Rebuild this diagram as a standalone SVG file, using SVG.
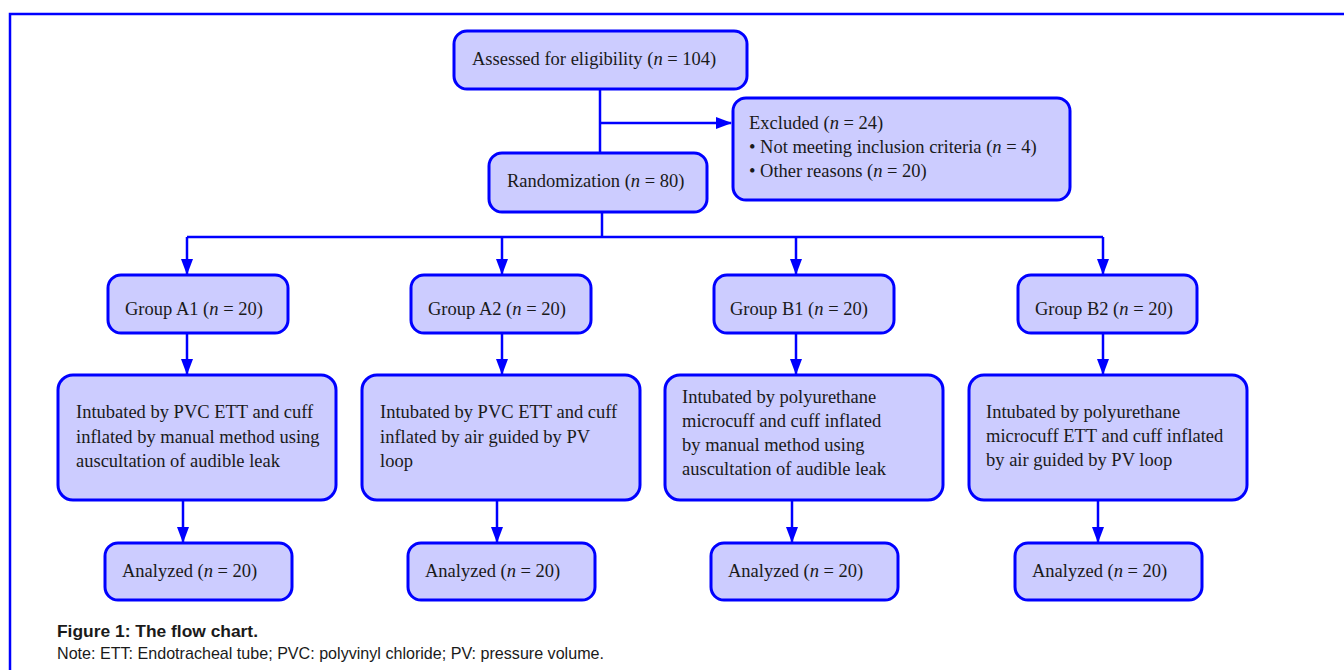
<svg xmlns="http://www.w3.org/2000/svg" width="1344" height="670" viewBox="0 0 1344 670">
<style>
.box{fill:#ccccff;stroke:#0000ff;stroke-width:3}
.t{font-family:"Liberation Serif","Times New Roman",serif;font-size:18.5px;fill:#1a1a1a}
.i{font-style:italic}
.c{stroke:#0000ff;stroke-width:2.5;fill:none}
.cap{font-family:"Liberation Sans",Arial,sans-serif;fill:#1a1a1a}
</style>
<defs>
<marker id="ah" markerUnits="userSpaceOnUse" markerWidth="16" markerHeight="12" refX="15" refY="6" orient="auto" viewBox="0 0 16 12">
<path d="M0,0 L16,6 L0,12 Z" fill="#0000ff"/>
</marker>
</defs>
<rect width="1344" height="670" fill="#ffffff"/>
<g id="frame">
<path d="M1344,14 H10 V670" fill="none" stroke="#0000ff" stroke-width="2.5"/>
</g>
<g id="connectors">
<path class="c" d="M600,89 V153"/>
<path class="c" d="M600,123 H731" marker-end="url(#ah)"/>
<path class="c" d="M602,212 V237"/>
<path class="c" d="M187,237 H1103"/>
<path class="c" d="M187,237 V274" marker-end="url(#ah)"/>
<path class="c" d="M502,237 V274" marker-end="url(#ah)"/>
<path class="c" d="M796,237 V274" marker-end="url(#ah)"/>
<path class="c" d="M1103,237 V274" marker-end="url(#ah)"/>
<path class="c" d="M187,333 V374" marker-end="url(#ah)"/>
<path class="c" d="M502,333 V374" marker-end="url(#ah)"/>
<path class="c" d="M796,333 V374" marker-end="url(#ah)"/>
<path class="c" d="M1103,333 V374" marker-end="url(#ah)"/>
<path class="c" d="M183,500 V542" marker-end="url(#ah)"/>
<path class="c" d="M497,500 V542" marker-end="url(#ah)"/>
<path class="c" d="M792,500 V542" marker-end="url(#ah)"/>
<path class="c" d="M1098,500 V542" marker-end="url(#ah)"/>
</g>
<g id="assessed">
<rect class="box" x="454" y="31" width="293" height="58" rx="13"/>
<text class="t" x="472" y="65">Assessed for eligibility (<tspan class="i">n</tspan> = 104)</text>
</g>
<g id="excluded">
<rect class="box" x="733" y="98" width="337" height="102" rx="13"/>
<text class="t" x="749" y="129">Excluded (<tspan class="i">n</tspan> = 24)</text>
<text class="t" x="749" y="153">• Not meeting inclusion criteria (<tspan class="i">n</tspan> = 4)</text>
<text class="t" x="749" y="177">• Other reasons (<tspan class="i">n</tspan> = 20)</text>
</g>
<g id="randomization">
<rect class="box" x="489" y="153" width="218" height="59" rx="13"/>
<text class="t" x="507" y="187">Randomization (<tspan class="i">n</tspan> = 80)</text>
</g>
<g id="groupA1">
<rect class="box" x="108" y="275" width="180" height="58" rx="13"/>
<text class="t" x="125" y="315">Group A1 (<tspan class="i">n</tspan> = 20)</text>
</g>
<g id="groupA2">
<rect class="box" x="411" y="275" width="180" height="58" rx="13"/>
<text class="t" x="428" y="315">Group A2 (<tspan class="i">n</tspan> = 20)</text>
</g>
<g id="groupB1">
<rect class="box" x="714" y="275" width="180" height="58" rx="13"/>
<text class="t" x="730" y="315">Group B1 (<tspan class="i">n</tspan> = 20)</text>
</g>
<g id="groupB2">
<rect class="box" x="1018" y="275" width="179" height="58" rx="13"/>
<text class="t" x="1035" y="315">Group B2 (<tspan class="i">n</tspan> = 20)</text>
</g>
<g id="intubA1">
<rect class="box" x="58" y="375" width="278" height="125" rx="15"/>
<text class="t" x="76" y="418">Intubated by PVC ETT and cuff</text>
<text class="t" x="76" y="443">inflated by manual method using</text>
<text class="t" x="76" y="467">auscultation of audible leak</text>
</g>
<g id="intubA2">
<rect class="box" x="362" y="375" width="278" height="125" rx="15"/>
<text class="t" x="380" y="418">Intubated by PVC ETT and cuff</text>
<text class="t" x="380" y="443">inflated by air guided by PV</text>
<text class="t" x="380" y="467">loop</text>
</g>
<g id="intubB1">
<rect class="box" x="665" y="375" width="278" height="125" rx="15"/>
<text class="t" x="682" y="403">Intubated by polyurethane</text>
<text class="t" x="682" y="427">microcuff and cuff inflated</text>
<text class="t" x="682" y="451">by manual method using</text>
<text class="t" x="682" y="475">auscultation of audible leak</text>
</g>
<g id="intubB2">
<rect class="box" x="969" y="375" width="278" height="125" rx="15"/>
<text class="t" x="986" y="418">Intubated by polyurethane</text>
<text class="t" x="986" y="442">microcuff ETT and cuff inflated</text>
<text class="t" x="986" y="466">by air guided by PV loop</text>
</g>
<g id="analyzedA1">
<rect class="box" x="105" y="543" width="187" height="57" rx="13"/>
<text class="t" x="122" y="577">Analyzed (<tspan class="i">n</tspan> = 20)</text>
</g>
<g id="analyzedA2">
<rect class="box" x="408" y="543" width="187" height="57" rx="13"/>
<text class="t" x="425" y="577">Analyzed (<tspan class="i">n</tspan> = 20)</text>
</g>
<g id="analyzedB1">
<rect class="box" x="711" y="543" width="187" height="57" rx="13"/>
<text class="t" x="728" y="577">Analyzed (<tspan class="i">n</tspan> = 20)</text>
</g>
<g id="analyzedB2">
<rect class="box" x="1015" y="543" width="187" height="57" rx="13"/>
<text class="t" x="1032" y="577">Analyzed (<tspan class="i">n</tspan> = 20)</text>
</g>
<g id="caption">
<text class="cap" x="57" y="637" font-size="17" font-weight="bold" textLength="201" lengthAdjust="spacingAndGlyphs">Figure 1: The flow chart.</text>
<text class="cap" x="57" y="659" font-size="17" textLength="547" lengthAdjust="spacingAndGlyphs">Note: ETT: Endotracheal tube; PVC: polyvinyl chloride; PV: pressure volume.</text>
</g>
</svg>
